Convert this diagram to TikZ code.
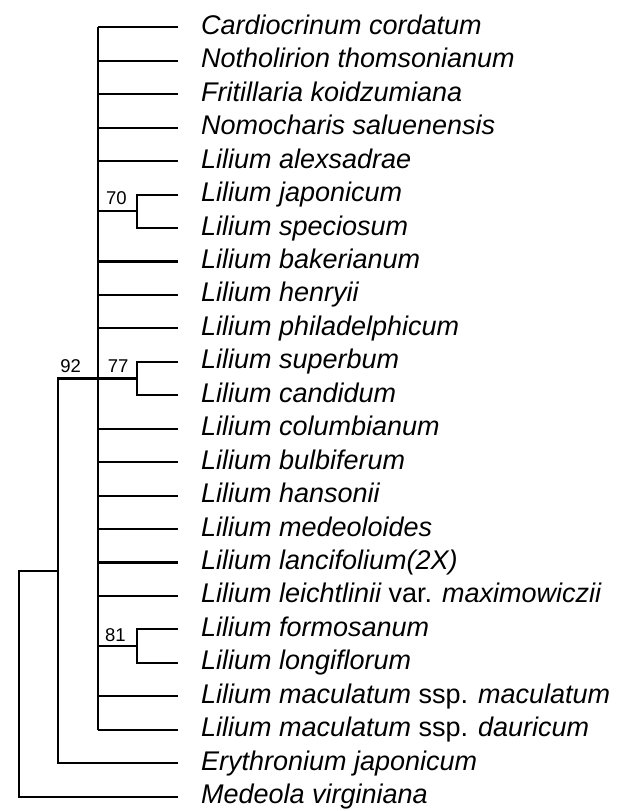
\documentclass[tikz,border=0pt]{standalone}
\usepackage{fontspec}
\setmainfont{Liberation Sans}
\begin{document}
\begin{tikzpicture}[x=1pt,y=-1pt,line width=2.1pt,
  taxon/.style={anchor=west,inner sep=0pt,text height=14pt,text depth=0pt,font=\fontsize{27}{30}\selectfont\itshape},
  support/.style={anchor=base west,inner sep=0pt,font=\fontsize{18.5}{20}\selectfont}]
\useasboundingbox (0,0) rectangle (623,811);
% leaf tips
\foreach \i in {1,...,24}{
  \pgfmathsetmacro{\yy}{27.3+33.45*(\i-1)}
  \coordinate (l\i) at (178,\yy);
}
% taxon labels
\node[taxon] (t1)  at ([xshift=22pt]l1)  {Cardiocrinum cordatum};
\node[taxon] (t2)  at ([xshift=22pt]l2)  {Notholirion thomsonianum};
\node[taxon] (t3)  at ([xshift=22pt]l3)  {Fritillaria koidzumiana};
\node[taxon] (t4)  at ([xshift=22pt]l4)  {Nomocharis saluenensis};
\node[taxon] (t5)  at ([xshift=22pt]l5)  {Lilium alexsadrae};
\node[taxon] (t6)  at ([xshift=22pt]l6)  {Lilium japonicum};
\node[taxon] (t7)  at ([xshift=22pt]l7)  {Lilium speciosum};
\node[taxon] (t8)  at ([xshift=22pt]l8)  {Lilium bakerianum};
\node[taxon] (t9)  at ([xshift=22pt]l9)  {Lilium henryii};
\node[taxon] (t10) at ([xshift=22pt]l10) {Lilium philadelphicum};
\node[taxon] (t11) at ([xshift=22pt]l11) {Lilium superbum};
\node[taxon] (t12) at ([xshift=22pt]l12) {Lilium candidum};
\node[taxon] (t13) at ([xshift=22pt]l13) {Lilium columbianum};
\node[taxon] (t14) at ([xshift=22pt]l14) {Lilium bulbiferum};
\node[taxon] (t15) at ([xshift=22pt]l15) {Lilium hansonii};
\node[taxon] (t16) at ([xshift=22pt]l16) {Lilium medeoloides};
\node[taxon] (t17) at ([xshift=22pt]l17) {Lilium lancifolium(2X)};
\node[taxon] (t18) at ([xshift=22pt]l18) {Lilium leichtlinii {\upshape var.} maximowiczii};
\node[taxon] (t19) at ([xshift=22pt]l19) {Lilium formosanum};
\node[taxon] (t20) at ([xshift=22pt]l20) {Lilium longiflorum};
\node[taxon] (t21) at ([xshift=22pt]l21) {Lilium maculatum {\upshape ssp.} maculatum};
\node[taxon] (t22) at ([xshift=22pt]l22) {Lilium maculatum {\upshape ssp.} dauricum};
\node[taxon] (t23) at ([xshift=22pt]l23) {Erythronium japonicum};
\node[taxon] (t24) at ([xshift=22pt]l24) {Medeola virginiana};
% internal nodes
\coordinate (A)   at (98,378.5);
\coordinate (n70) at (137,211.3);
\coordinate (n77) at (137,378.5);
\coordinate (n81) at (137,646.1);
\coordinate (B)   at (58,570.85);
\coordinate (R)   at (18.7,570.85);
% main polytomy
\draw (A |- l1) -- (A |- l22);
\foreach \i in {1,2,3,4,5,8,9,10,13,14,15,16,17,18,21,22}{
  \draw (A |- l\i) -- (l\i);
}
% pairs
\draw (l6) -| (n70) |- (l7);
\draw (A |- n70) -- (n70);
\draw (l11) -| (n77) |- (l12);
\draw (A |- n77) -- (n77);
\draw (l19) -| (n81) |- (l20);
\draw (A |- n81) -- (n81);
% outer nodes
\draw (A) -| (B) |- (l23);
\draw (B) -- (R) |- (l24);
% support values
\node[support] (s70) at (105,204)   {70};
\node[support] (s77) at (106.7,372.7) {77};
\node[support] (s92) at (59.3,372.7)  {92};
\node[support] (s81) at (104,641.7)   {81};
\end{tikzpicture}
\end{document}
